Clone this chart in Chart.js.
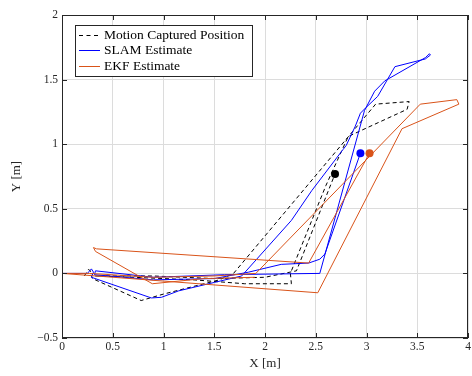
<!DOCTYPE html>
<html>
<head>
<meta charset="utf-8">
<script src="https://cdn.jsdelivr.net/npm/chart.js@4.4.1/dist/chart.umd.min.js"></script>
<style>
  html, body { margin: 0; padding: 0; background: #fff; }
  #wrap { width: 472px; height: 376px; }
</style>
</head>
<body>
<div id="wrap"><canvas id="chart" width="472" height="376"></canvas></div>
<script>
const xTicks = [0, 0.5, 1, 1.5, 2, 2.5, 3, 3.5, 4];
const yTicks = [-0.5, 0, 0.5, 1, 1.5, 2];

const seriesNames = ["Motion Captured Position", "SLAM Estimate", "EKF Estimate"];

const mocapX = [0.22, 0.26, 0.28, 0.29, 0.30, 0.78, 1.00, 1.30, 1.55, 1.69, 3.09, 3.42, 3.40, 2.82, 2.60, 2.25, 2.26, 1.80, 1.30, 0.70, 0.33, 0.90, 1.50, 2.00, 2.31, 2.69];
const mocapY = [-0.02, 0.03, 0.02, -0.02, -0.04, -0.21, -0.16, -0.10, -0.05, 0.00, 1.31, 1.33, 1.27, 1.06, 0.68, 0.00, -0.08, -0.08, -0.05, -0.03, -0.02, -0.02, -0.04, -0.03, 0.02, 0.77];

// SLAM estimate
const slamX = [0.00, 0.25, 0.29, 0.31, 0.29, 0.88, 0.98, 1.15, 1.50, 1.77, 2.26, 2.46, 2.77, 2.80, 2.89, 2.94, 2.99, 3.11, 3.28, 3.58, 3.63, 3.62, 3.58, 3.18, 3.08, 2.98, 2.54, 1.60, 0.90, 0.33, 0.32, 0.90, 1.50, 1.84, 2.16, 2.43, 2.54, 2.59, 2.94];
const slamY = [0.00, 0.00, 0.035, 0.01, -0.03, -0.19, -0.185, -0.135, -0.07, -0.02, 0.41, 0.64, 0.96, 0.99, 1.14, 1.24, 1.28, 1.37, 1.60, 1.66, 1.69, 1.70, 1.67, 1.49, 1.41, 1.26, 0.00, -0.01, -0.03, 0.02, -0.01, -0.05, -0.04, 0.01, 0.07, 0.08, 0.11, 0.15, 0.93];

// EKF estimate (null = break in the trace)
const ekfX = [0.00, 0.27, 0.90, 1.50, 1.91, 3.53, 3.89, 3.91, 3.35, 2.52, 0.00, null, 1.90, 1.40, 0.89, 0.33, 0.31, 0.34, 2.43, 3.03];
const ekfY = [0.00, 0.00, -0.03, -0.02, 0.00, 1.31, 1.345, 1.31, 1.12, -0.15, 0.00, null, -0.03, -0.04, -0.08, 0.17, 0.20, 0.19, 0.08, 0.93];

const colors = ["#000000", "#0000ff", "#d95319"];
const serif = "'Liberation Serif', 'Times New Roman', serif";

const toPoints = (xs, ys) => xs.map((x, i) => ({ x: x, y: ys[i] }));
const lastDot = len => ctx => (ctx.dataIndex === len - 1 ? 4 : 0);

function fmt(v) {
  return v < 0 ? "\u2212" + Math.abs(v) : String(v);
}

const frameAndLegend = {
  id: "frameAndLegend",
  afterDraw(chart) {
    const { ctx, chartArea: a, scales } = chart;
    ctx.save();
    ctx.strokeStyle = "#262626";
    ctx.lineWidth = 1;
    ctx.setLineDash([]);
    ctx.beginPath();
    xTicks.forEach(v => {
      const px = Math.round(scales.x.getPixelForValue(v)) + 0.5;
      ctx.moveTo(px, a.bottom); ctx.lineTo(px, a.bottom - 5);
      ctx.moveTo(px, a.top); ctx.lineTo(px, a.top + 5);
    });
    yTicks.forEach(v => {
      const py = Math.round(scales.y.getPixelForValue(v)) + 0.5;
      ctx.moveTo(a.left, py); ctx.lineTo(a.left + 5, py);
      ctx.moveTo(a.right, py); ctx.lineTo(a.right - 5, py);
    });
    ctx.stroke();
    ctx.strokeRect(a.left + 0.5, a.top + 0.5, a.right - a.left - 1, a.bottom - a.top - 1);

    // legend box, top left inside the axes
    ctx.fillStyle = "#fff";
    ctx.fillRect(75, 25, 178, 51);
    ctx.strokeStyle = "#262626";
    ctx.strokeRect(75.5, 25.5, 177, 51);
    ctx.font = "13.5px " + serif;
    ctx.textBaseline = "middle";
    ctx.textAlign = "left";
    seriesNames.forEach((name, i) => {
      const y = 34.5 + i * 15.7;
      ctx.strokeStyle = colors[i];
      ctx.setLineDash(i === 0 ? [4, 3.5] : []);
      ctx.beginPath();
      ctx.moveTo(79, Math.round(y) + 0.5);
      ctx.lineTo(100, Math.round(y) + 0.5);
      ctx.stroke();
      ctx.fillStyle = "#000";
      ctx.fillText(name, 104, y + 0.5);
    });
    ctx.restore();
  }
};

new Chart(document.getElementById("chart"), {
  type: "line",
  data: {
    datasets: [
      {
        label: seriesNames[0], data: toPoints(mocapX, mocapY),
        borderColor: colors[0], backgroundColor: colors[0], borderWidth: 1, borderDash: [4, 3],
        pointRadius: lastDot(mocapX.length), pointBorderWidth: 0, order: 3
      },
      {
        label: seriesNames[1], data: toPoints(slamX, slamY),
        borderColor: colors[1], backgroundColor: colors[1], borderWidth: 1,
        pointRadius: lastDot(slamX.length), pointBorderWidth: 0, order: 2
      },
      {
        label: seriesNames[2], data: toPoints(ekfX, ekfY),
        borderColor: colors[2], backgroundColor: colors[2], borderWidth: 1,
        pointRadius: lastDot(ekfX.length), pointBorderWidth: 0, order: 1
      }
    ]
  },
  options: {
    responsive: false,
    animation: false,
    devicePixelRatio: 1,
    spanGaps: false,
    layout: { padding: { top: 15, right: 0, left: 0, bottom: 0 } },
    elements: { line: { tension: 0, fill: false } },
    plugins: { legend: { display: false }, tooltip: { enabled: false } },
    scales: {
      x: {
        type: "linear", min: 0, max: 4,
        afterBuildTicks: s => { s.ticks = xTicks.map(v => ({ value: v })); },
        afterFit: s => { s.height = 38; s.paddingLeft = 0; s.paddingRight = 0; },
        ticks: { callback: fmt, font: { family: serif, size: 11.5 }, color: "#262626", padding: 2, maxRotation: 0 },
        grid: { color: "#dcdcdc", drawTicks: false },
        border: { display: false },
        title: { display: true, text: "X [m]", font: { family: serif, size: 13 }, color: "#262626", padding: { top: 0, bottom: 5 } }
      },
      y: {
        type: "linear", min: -0.5, max: 2,
        afterBuildTicks: s => { s.ticks = yTicks.map(v => ({ value: v })); },
        afterFit: s => { s.width = 62; s.paddingTop = 0; s.paddingBottom = 0; },
        ticks: { callback: fmt, font: { family: serif, size: 11.5 }, color: "#262626", padding: 4 },
        grid: { color: "#dcdcdc", drawTicks: false },
        border: { display: false },
        title: { display: true, text: "Y [m]", font: { family: serif, size: 13 }, color: "#262626", padding: { top: 9, bottom: 0 } }
      }
    }
  },
  plugins: [frameAndLegend]
});
</script>
</body>
</html>
